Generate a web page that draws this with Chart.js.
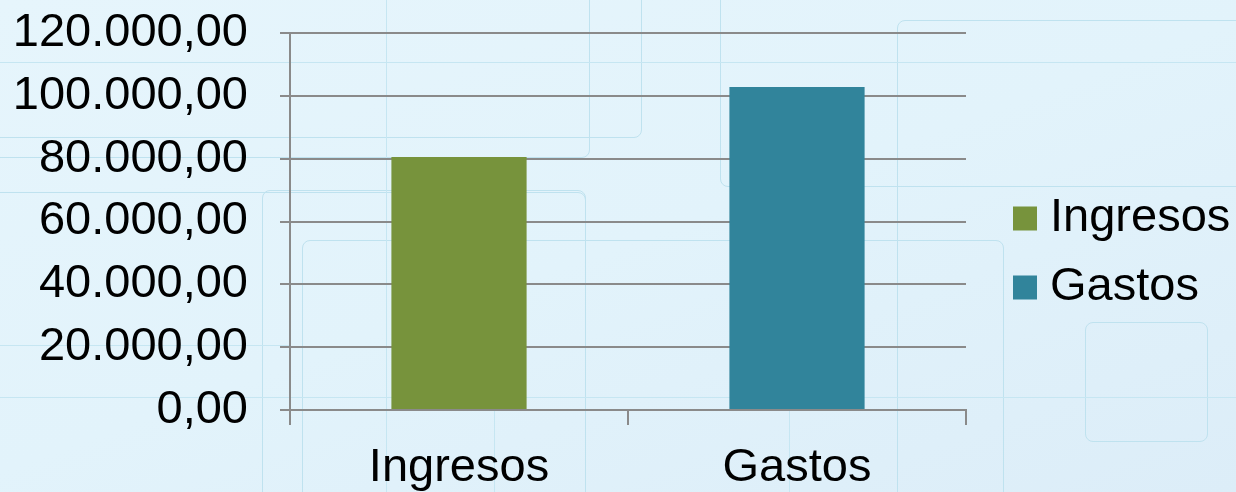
<!DOCTYPE html>
<html>
<head>
<meta charset="utf-8">
<script src="https://cdn.jsdelivr.net/npm/chart.js@4"></script>
<style>
  html, body { margin: 0; padding: 0; }
  body {
    width: 1236px; height: 492px; overflow: hidden; position: relative;
    background: linear-gradient(160deg, #e6f5fc 0%, #e2f3fb 50%, #dcedf8 100%);
  }
  .deco { position: absolute; border: 1.5px solid #bfe2ef; border-radius: 8px; }
  .hl { position: absolute; height: 0; border-top: 1.5px solid #c6e6f2; }
  .vl { position: absolute; width: 0; border-left: 1.5px solid #c6e6f2; }
  #wrap { position: absolute; left: 0; top: 0; width: 1236px; height: 492px; }
</style>
</head>
<body>
<!-- faint background pattern -->
<div class="deco" style="left:-20px; top:-20px; width:660px; height:156px;"></div>
<div class="deco" style="left:-20px; top:-20px; width:608px; height:176px;"></div>
<div class="deco" style="left:720px; top:-20px; width:560px; height:205px;"></div>
<div class="deco" style="left:897px; top:20px; width:400px; height:500px;"></div>
<div class="deco" style="left:-20px; top:192px; width:604px; height:400px;"></div>
<div class="deco" style="left:302px; top:240px; width:700px; height:300px;"></div>
<div class="deco" style="left:262px; top:190px; width:322px; height:320px;"></div>
<div class="deco" style="left:1085px; top:322px; width:121px; height:118px;"></div>
<div class="hl" style="left:0; top:62px; width:1236px;"></div>
<div class="hl" style="left:0; top:345px; width:290px;"></div>
<div class="hl" style="left:0; top:397px; width:1236px;"></div>
<div class="vl" style="left:386px; top:0; height:492px;"></div>
<div class="vl" style="left:494px; top:410px; height:82px;"></div>
<div class="vl" style="left:789px; top:410px; height:82px;"></div>

<div id="wrap"><canvas id="chart"></canvas></div>

<script>
const categories = ['Ingresos', 'Gastos'];
const values = [80500, 102800];
const barColors = ['#77933c', '#31849b'];
const yTickLabels = ['0,00', '20.000,00', '40.000,00', '60.000,00', '80.000,00', '100.000,00', '120.000,00'];

const fontFamily = "'Liberation Sans', Arial, sans-serif";
const fontSize = 47;
const axisGray = '#8a8a8a';

// legend drawn to the right of the plot, one entry per category
const sideLegend = {
  id: 'sideLegend',
  afterDraw(chart) {
    const ctx = chart.ctx;
    const area = chart.chartArea;
    const box = 24;
    const step = 69;
    const x = area.right + 47;
    const midY = chart.height / 2 + 7;
    const y0 = midY - step * (categories.length - 1) / 2;

    ctx.save();
    ctx.font = `${fontSize}px ${fontFamily}`;
    ctx.textBaseline = 'middle';
    ctx.textAlign = 'left';
    categories.forEach((name, i) => {
      const y = y0 + i * step;
      ctx.fillStyle = barColors[i];
      ctx.fillRect(x, y - box / 2, box, box);
      ctx.fillStyle = '#000';
      ctx.fillText(name, x + box + 13, y);
    });
    ctx.restore();
  }
};

function renderBudgetChart(canvasId) {
  const canvas = document.getElementById(canvasId);
  const ctx = canvas.getContext('2d');

  const data = {
    labels: categories,
    datasets: [{
      label: 'Importe',
      data: values,
      backgroundColor: barColors,
      borderWidth: 0,
      barPercentage: 0.4,
      categoryPercentage: 1
    }]
  };

  const config = {
    type: 'bar',
    data: data,
    options: {
      responsive: true,
      maintainAspectRatio: false,
      animation: false,
      layout: {
        padding: { top: 33, left: 0, right: 270, bottom: 0 }
      },
      plugins: {
        tooltip: { enabled: false },
        legend: { display: false }
      },
      scales: {
        x: {
          offset: true,
          grid: {
            offset: true,
            drawOnChartArea: false,
            drawTicks: true,
            tickLength: 15,
            color: axisGray,
            lineWidth: 2
          },
          border: { color: axisGray, width: 2 },
          ticks: {
            color: '#000',
            padding: 20,
            font: { family: fontFamily, size: fontSize, lineHeight: 1 }
          },
          afterFit: axis => { axis.height = 82; }
        },
        y: {
          min: 0,
          max: 120000,
          grid: { color: axisGray, lineWidth: 2, tickLength: 10 },
          border: { color: axisGray, width: 2 },
          ticks: {
            stepSize: 20000,
            padding: 32,
            color: '#000',
            font: { family: fontFamily, size: fontSize, lineHeight: 1 },
            callback: (value, index) => yTickLabels[index]
          },
          afterFit: axis => {
            axis.width = 290;
            axis.paddingTop = 0;
            axis.paddingBottom = 0;
          }
        }
      }
    },
    plugins: [sideLegend]
  };

  return new Chart(ctx, config);
}

renderBudgetChart('chart');
</script>
</body>
</html>
